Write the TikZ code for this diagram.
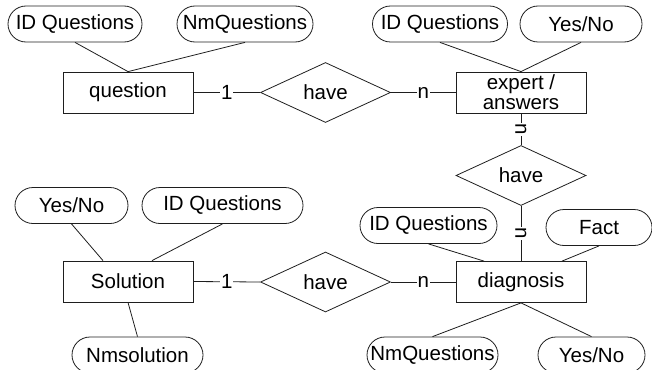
\documentclass[tikz,border=0pt]{standalone}
\usepackage{fontspec}
\setmainfont{Liberation Sans}
\usetikzlibrary{shapes.geometric,calc}
\definecolor{linecol}{HTML}{1E1E1E}
\begin{document}
\begin{tikzpicture}[x=1pt,y=-1pt,
  every node/.style={font=\fontsize{20.5pt}{20pt}\selectfont, text=black},
  entity/.style={draw=linecol, line width=0.8pt, minimum width=130pt, minimum height=41pt, inner sep=0pt, align=center},
  attr/.style={draw=linecol, line width=0.8pt, rounded corners=18pt, minimum height=36pt, inner sep=0pt},
  rel/.style={draw=linecol, line width=0.8pt, diamond, aspect=2.17, minimum width=130pt, minimum height=60pt, inner sep=0pt},
  link/.style={draw=linecol, line width=0.8pt},
  card/.style={fill=white, inner sep=1pt}
]
\useasboundingbox (0,0) rectangle (652,369);

% entities
\node[entity] (question) at (128,92.5) {question};
\node[entity] (expert)   at (521,92.5) {expert /\\answers};
\node[entity] (solution) at (128,281.5) {Solution};
\node[entity] (diag)     at (521,282) {diagnosis};

% relationships
\node[rel] (have1) at (325.5,92.5) {have};
\node[rel] (have2) at (521,175.5) {have};
\node[rel] (have3) at (325.5,282) {have};

% attributes
\node[attr, minimum width=134pt] (qid)   at (75,24)    {ID Questions};
\node[attr, minimum width=136pt] (qnm)   at (245,24)   {NmQuestions};
\node[attr, minimum width=135pt] (eid)   at (440,24)   {ID Questions};
\node[attr, minimum width=122pt] (eyn)   at (581,24)   {Yes/No};
\node[attr, minimum width=113pt] (syn)   at (71.5,205.5) {Yes/No};
\node[attr, minimum width=161pt] (sid)   at (222.5,205.5) {ID Questions};
\node[attr, minimum width=131pt] (snm)   at (137.5,355) {Nmsolution};
\node[attr, minimum width=137pt] (did)   at (428.5,225.5) {ID Questions};
\node[attr, minimum width=106pt] (dfact) at (599,227.5) {Fact};
\node[attr, minimum width=131pt] (dnm)   at (432.5,355) {NmQuestions};
\node[attr, minimum width=107pt] (dyn)   at (591.5,355) {Yes/No};

% attribute links
\draw[link] (qid.south) -- (question.north);
\draw[link] (qnm.south) -- (question.north);
\draw[link] (eid.south) -- (expert.north);
\draw[link] (eyn.south) -- (expert.north);
\draw[link] (syn.south) -- ([xshift=-25pt]solution.north);
\draw[link] (sid.south) -- ([xshift=24pt]solution.north);
\draw[link] (snm.north) -- (solution.south);
\draw[link] (did.south) -- ([xshift=-37pt]diag.north);
\draw[link] (dfact.south) -- ([xshift=41pt]diag.north);
\draw[link] (dnm.north) -- (diag.south);
\draw[link] (dyn.north) -- (diag.south);

% relationship links with cardinalities
\draw[link] (question.east) -- node[card] {1} (have1.west);
\draw[link] (have1.east) -- node[card] {n} (expert.west);
\draw[link] (expert.south) -- node[card, rotate=-90] {n} (have2.north);
\draw[link] (have2.south) -- node[card, rotate=-90] {n} (diag.north);
\draw[link] (solution.east) -- node[card] {1} (have3.west);
\draw[link] (have3.east) -- node[card] {n} (diag.west);
\end{tikzpicture}
\end{document}
